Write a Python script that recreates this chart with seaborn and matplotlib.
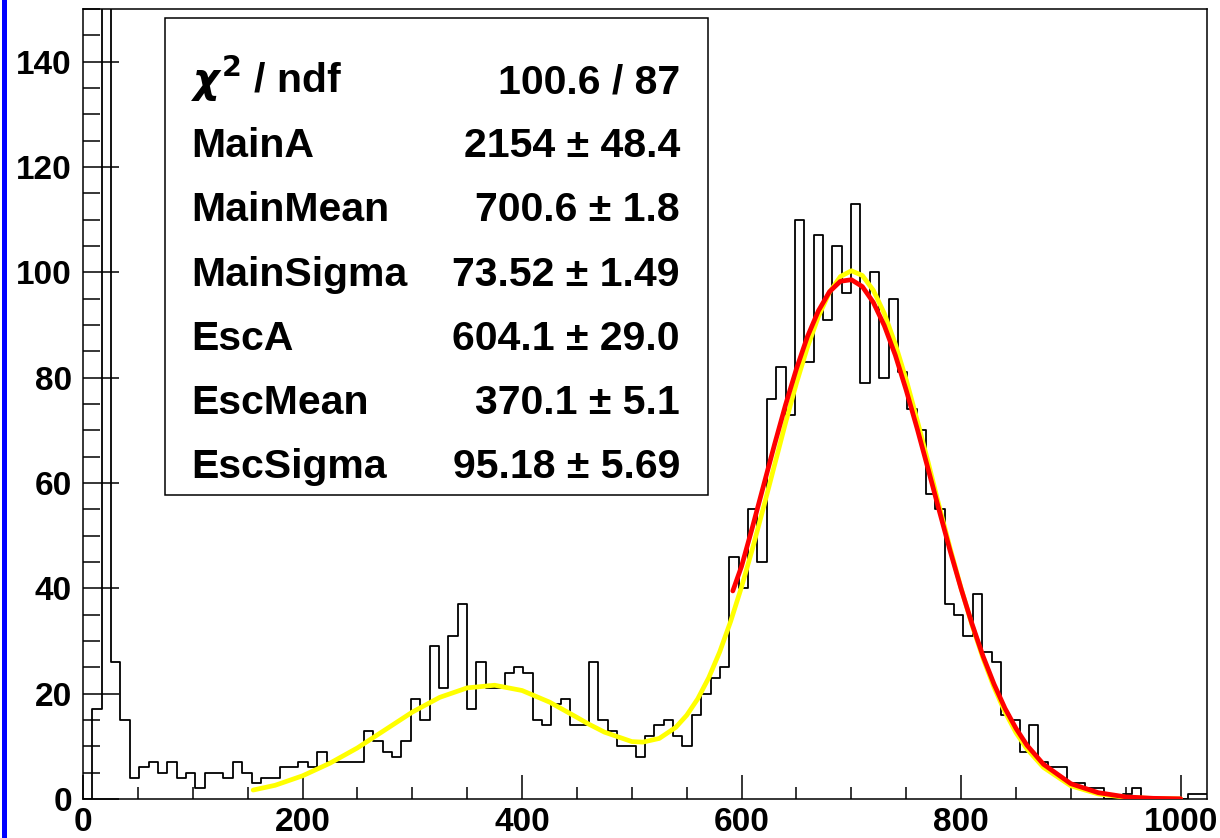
import numpy as np
import pandas as pd
import matplotlib
matplotlib.use("Agg")
import matplotlib.pyplot as plt
from matplotlib.patches import Rectangle
from matplotlib.ticker import MultipleLocator
import seaborn as sns

# ---------------- data ----------------
hist_range = (0, 1024)
n_bins = 120
counts = [
    0, 17, 200, 26, 15, 4, 6, 7, 5, 7,
    4, 5, 2, 5, 5, 4, 7, 5, 3, 4,
    4, 6, 6, 7, 6, 9, 7, 7, 7, 7,
    13, 11, 9, 8, 11, 19, 15, 29, 21, 31,
    37, 17, 26, 21, 21, 24, 25, 24, 15, 14,
    18, 19, 14, 14, 26, 15, 13, 10, 10, 8,
    12, 14, 15, 12, 10, 16, 20, 23, 25, 46,
    40, 55, 45, 76, 82, 73, 110, 83, 107, 91,
    105, 96, 113, 79, 100, 80, 95, 81, 74, 70,
    58, 55, 37, 35, 31, 39, 28, 26, 16, 15,
    9, 14, 7, 6, 6, 3, 3, 2, 2, 0,
    0, 1, 2, 0, 0, 0, 0, 0, 1, 1,
]

# full fit (yellow)
fit_x = [155, 175, 200, 225, 250, 275, 300, 325, 350, 375, 400, 425, 450, 460,
         475, 500, 510, 525, 540, 550, 560, 570, 580, 590, 600, 610, 620, 630,
         640, 650, 660, 670, 680, 690, 700, 710, 720, 730, 740, 750, 760, 770,
         780, 790, 800, 810, 820, 830, 840, 850, 860, 875, 900, 925, 950, 975, 1000]
fit_y = [1.7, 2.6, 4.4, 6.8, 9.7, 13.1, 16.5, 19.3, 21.1, 21.6, 20.6, 18.4, 15.5, 14.3,
         12.7, 10.9, 10.8, 11.5, 13.6, 15.9, 19.0, 23.0, 27.9, 33.7, 40.3, 47.6, 55.4, 63.4,
         71.4, 79.0, 85.8, 91.6, 96.2, 99.2, 100.3, 99.4, 96.6, 92.2, 86.4, 79.6, 71.9, 63.9,
         55.6, 47.6, 40.0, 33.0, 26.7, 21.2, 16.5, 12.6, 9.5, 6.0, 2.5, 0.95, 0.32, 0.09, 0.02]

# main-peak fit (red)
main_x = [592, 600, 610, 620, 630, 640, 650, 660, 670, 680, 690, 700, 710, 720, 730,
          740, 750, 760, 770, 780, 790, 800, 810, 820, 830, 840, 850, 860, 875, 900,
          925, 950, 975, 1000]
main_y = [39.5, 44.2, 51.7, 59.5, 67.3, 74.8, 81.7, 87.8, 92.7, 96.3, 98.3, 98.6, 97.3, 94.3, 89.9,
          84.3, 77.6, 70.3, 62.6, 54.8, 47.1, 39.9, 33.2, 27.1, 21.8, 17.2, 13.4, 10.2, 6.6, 2.9,
          1.2, 0.4, 0.13, 0.04]

stat_names = ["$\\chi^{2}$ / ndf", "MainA", "MainMean", "MainSigma", "EscA", "EscMean", "EscSigma"]
stat_values = ["100.6 / 87", "2154 \u00b1 48.4", "700.6 \u00b1 1.8", "73.52 \u00b1 1.49",
               "604.1 \u00b1 29.0", "370.1 \u00b1 5.1", "95.18 \u00b1 5.69"]

x_ticks = [0, 200, 400, 600, 800, 1000]
y_ticks = [0, 20, 40, 60, 80, 100, 120, 140]

# ---------------- plot ----------------
sns.set_theme(style="white")
plt.rcParams["font.family"] = ["Liberation Sans", "DejaVu Sans"]
plt.rcParams["font.weight"] = "bold"
plt.rcParams["text.color"] = "black"

W, H = 1220, 838
fig = plt.figure(figsize=(W / 100, H / 100), dpi=100, facecolor="white")
L, R, T, B = 83, 1207, 9, 799
ax = fig.add_axes([L / W, 1 - B / H, (R - L) / W, (B - T) / H])
ax.set_facecolor("white")

edges = np.linspace(hist_range[0], hist_range[1], n_bins + 1)
centers = 0.5 * (edges[:-1] + edges[1:])
df = pd.DataFrame({"x": centers, "n": counts})
sns.histplot(data=df, x="x", weights="n", bins=n_bins, binrange=hist_range,
             element="step", fill=False, color="black", linewidth=1.3, ax=ax)

sns.lineplot(x=fit_x, y=fit_y, color="#ffff00", linewidth=3.4, ax=ax,
             estimator=None, sort=False, zorder=4)
sns.lineplot(x=main_x, y=main_y, color="#ff0000", linewidth=3.4, ax=ax,
             estimator=None, sort=False, zorder=5)

ax.set_xlim(*hist_range)
ax.set_ylim(0, 150)
ax.set_xlabel("")
ax.set_ylabel("")
ax.set_xticks(x_ticks)
ax.set_yticks(y_ticks)
ax.xaxis.set_minor_locator(MultipleLocator(50))
ax.yaxis.set_minor_locator(MultipleLocator(5))
ax.tick_params(which="both", direction="in", top=False, right=False,
               bottom=True, left=True, color="black")
ax.tick_params(axis="y", which="major", length=26, width=1.1, pad=8, labelsize=24)
ax.tick_params(axis="y", which="minor", length=12.5, width=1.1)
ax.tick_params(axis="x", which="major", length=17.5, width=1.1, pad=6, labelsize=24)
ax.tick_params(axis="x", which="minor", length=8.5, width=1.1)
for lab in ax.get_xticklabels() + ax.get_yticklabels():
    lab.set_fontweight("bold")
    lab.set_color("black")
for s in ax.spines.values():
    s.set_visible(True)
    s.set_color("black")
    s.set_linewidth(1.1)

# stats box
def axx(px):
    return (px - L) / (R - L)

def axy(py):
    return (B - py) / (B - T)

box = Rectangle((axx(165), axy(495)), axx(708) - axx(165), axy(18) - axy(495),
                transform=ax.transAxes, facecolor="white", edgecolor="black",
                linewidth=1.1, zorder=10)
ax.add_patch(box)
for i, (nm, val) in enumerate(zip(stat_names, stat_values)):
    yb = axy(93 + 64.2 * i)
    ax.text(axx(191), yb, nm, transform=ax.transAxes, ha="left", va="baseline",
            fontsize=29.5, fontweight="bold", color="black", zorder=11)
    ax.text(axx(680), yb, val, transform=ax.transAxes, ha="right", va="baseline",
            fontsize=29.5, fontweight="bold", color="black", zorder=11)

# blue canvas edge on the left
fig.add_artist(Rectangle((2 / W, 0), 5 / W, 1, transform=fig.transFigure,
                         facecolor="#0000ff", edgecolor="none"))

fig.savefig("out.png", dpi=100, facecolor="white")
